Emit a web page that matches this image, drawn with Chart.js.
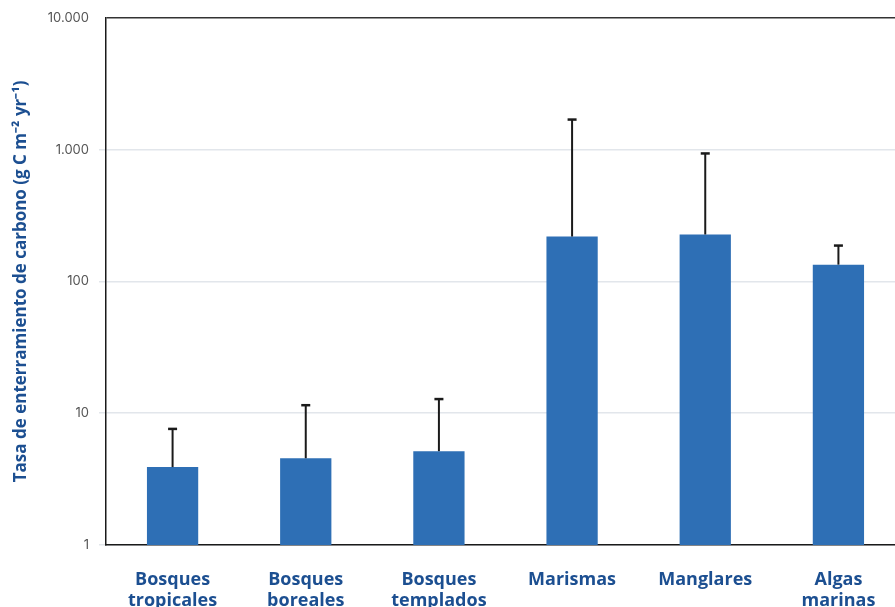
<!DOCTYPE html>
<html>
<head>
<meta charset="utf-8">
<script src="https://cdn.jsdelivr.net/npm/chart.js@4.4.1/dist/chart.umd.min.js"></script>
<style>
    html, body { margin: 0; padding: 0; background: #fff; overflow: hidden; }
    #wrap { width: 895px; height: 607px; overflow: hidden; position: relative; }
    #box { width: 906px; height: 607px; position: absolute; left: 0; top: 0; }
</style>
</head>
<body>
<div id="wrap"><div id="box"><canvas id="chart"></canvas></div></div>
<script>
// Data
const categories = [
    ['Bosques', 'tropicales'],
    ['Bosques', 'boreales'],
    ['Bosques', 'templados'],
    'Marismas',
    'Manglares',
    ['Algas', 'marinas']
];
const burialRate = [3.9, 4.55, 5.15, 219, 227, 134];
const errorHigh = [7.6, 11.5, 12.8, 1690, 935, 187];
const yTicks = [1, 10, 100, 1000, 10000];

const blueBar = '#2e6fb5';
const blueText = '#1c4f91';

// draws the upper error whiskers from the bar tops
const errorBars = {
    id: 'errorBars',
    afterDatasetsDraw(chart) {
        const ctx = chart.ctx;
        const yScale = chart.scales.y;
        const meta = chart.getDatasetMeta(0);
        ctx.save();
        ctx.strokeStyle = '#1a1a1a';
        meta.data.forEach((bar, i) => {
            const yTop = yScale.getPixelForValue(errorHigh[i]);
            ctx.lineWidth = 2;
            ctx.beginPath();
            ctx.moveTo(bar.x, bar.y);
            ctx.lineTo(bar.x, yTop);
            ctx.stroke();
            ctx.lineWidth = 2.5;
            ctx.beginPath();
            ctx.moveTo(bar.x - 4.5, yTop);
            ctx.lineTo(bar.x + 4.5, yTop);
            ctx.stroke();
        });
        ctx.restore();
    }
};

new Chart(document.getElementById('chart'), {
    type: 'bar',
    data: {
        labels: categories,
        datasets: [{
            data: burialRate,
            backgroundColor: blueBar,
            categoryPercentage: 1,
            barPercentage: 0.385
        }]
    },
    options: {
        responsive: true,
        maintainAspectRatio: false,
        animation: false,
        layout: { padding: { top: 17, right: 1, left: 0, bottom: 0 } },
        plugins: {
            legend: { display: false },
            tooltip: { enabled: false }
        },
        scales: {
            x: {
                grid: { display: false, drawTicks: false },
                border: { color: '#1a1a1a', width: 1.5 },
                ticks: {
                    color: blueText,
                    font: { family: '"Open Sans", sans-serif', size: 18, weight: 'bold', lineHeight: 1.15 },
                    padding: 25,
                    maxRotation: 0
                },
                afterFit(scale) { scale.height = 62; }
            },
            y: {
                type: 'logarithmic',
                min: 1,
                max: 10000,
                afterBuildTicks(scale) {
                    scale.ticks = yTicks.map(v => ({ value: v }));
                },
                afterFit(scale) { scale.width = 106; },
                border: { color: '#1a1a1a', width: 1.5 },
                grid: {
                    color: c => c.tick && c.tick.value === 10000 ? '#333' : '#e2e6eb',
                    tickColor: c => c.tick && c.tick.value === 10000 ? 'rgba(0,0,0,0)' : '#e2e6eb',
                    lineWidth: 1.5,
                    tickLength: 7
                },
                ticks: {
                    color: '#555',
                    font: { family: 'Inter, Roboto, sans-serif', size: 13 },
                    padding: 10,
                    callback: v => v.toLocaleString('de-DE')
                },
                title: {
                    display: true,
                    text: 'Tasa de enterramiento de carbono (g C m⁻² yr⁻¹)',
                    color: blueText,
                    font: { family: '"Open Sans", sans-serif', size: 17, weight: 'bold' },
                    padding: { top: 11, bottom: 0 }
                }
            }
        }
    },
    plugins: [errorBars]
});
</script>
</body>
</html>
